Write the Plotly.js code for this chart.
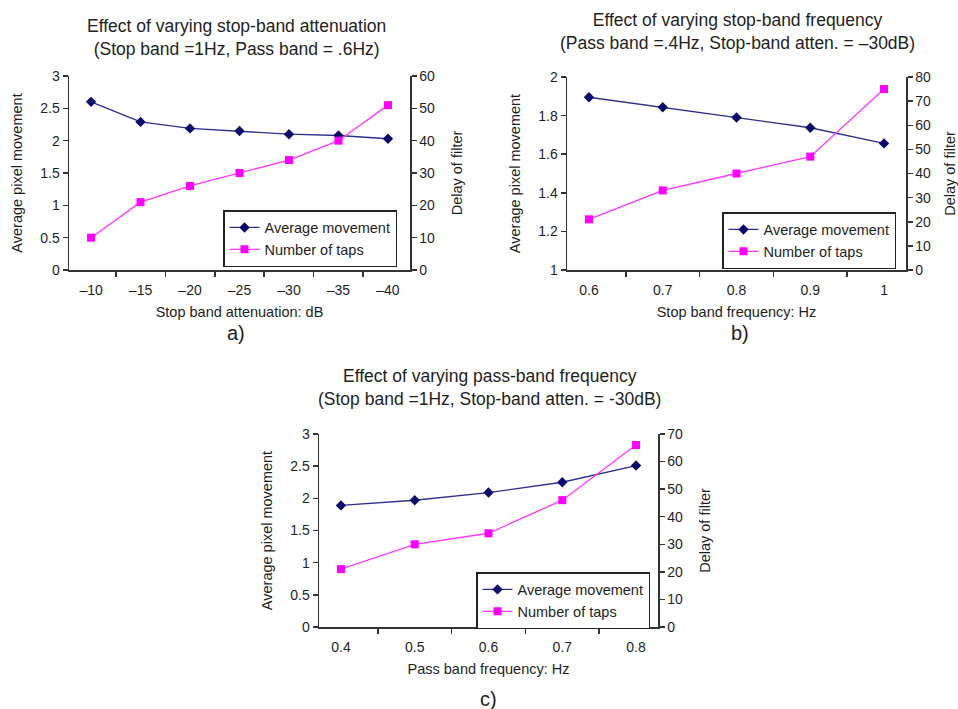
<!DOCTYPE html>
<html>
<head>
<meta charset="utf-8">
<script src="https://cdn.plot.ly/plotly-3.0.1.min.js"></script>
<style>html,body{margin:0;padding:0;background:#fff;}#chart{width:958px;height:709px;}</style>
</head>
<body>
<div id="chart"></div>
<script>
// Chart a) data
const attenCats = ["\u201310", "\u201315", "\u201320", "\u201325", "\u201330", "\u201335", "\u201340"];
const attenAvg = [2.6, 2.29, 2.19, 2.15, 2.10, 2.08, 2.03];
const attenTaps = [10, 21, 26, 30, 34, 40, 51];
// Chart b) data
const stopCats = ["0.6", "0.7", "0.8", "0.9", "1"];
const stopAvg = [1.895, 1.843, 1.79, 1.737, 1.656];
const stopTaps = [21, 33, 40, 47, 75];
// Chart c) data
const passCats = ["0.4", "0.5", "0.6", "0.7", "0.8"];
const passAvg = [1.89, 1.97, 2.09, 2.25, 2.51];
const passTaps = [21, 30, 34, 46, 66];

const FONT = "Liberation Sans, Arial, sans-serif";
const TXT = "#1e1e1e";
const AX = "#333";
const NAVY_LINE = "#2e2e8e";
const NAVY_MK = "#0b0b6b";
const MAG_LINE = "#ff33ff";
const MAG_MK = "#ff00ff";

function avgTrace(x, y, xa, ya, lg) {
  return {x: x, y: y, xaxis: xa, yaxis: ya, type: "scatter", mode: "lines+markers",
    name: "Average movement", legend: lg,
    line: {color: NAVY_LINE, width: 1.3},
    marker: {symbol: "diamond", size: 8, color: NAVY_MK}};
}
function tapTrace(x, y, xa, ya, lg) {
  return {x: x, y: y, xaxis: xa, yaxis: ya, type: "scatter", mode: "lines+markers",
    name: "Number of taps", legend: lg,
    line: {color: MAG_LINE, width: 1.3},
    marker: {symbol: "square", size: 8, color: MAG_MK}};
}

const data = [
  avgTrace(attenCats, attenAvg, "x", "y", "legend"),
  tapTrace(attenCats, attenTaps, "x", "y2", "legend"),
  avgTrace(stopCats, stopAvg, "x2", "y3", "legend2"),
  tapTrace(stopCats, stopTaps, "x2", "y4", "legend2"),
  avgTrace(passCats, passAvg, "x3", "y5", "legend3"),
  tapTrace(passCats, passTaps, "x3", "y6", "legend3")
];

const tickFont = {family: FONT, size: 14, color: TXT};
const titleFont = {family: FONT, size: 14.5, color: TXT};

function xAxis(domain, title, anchor) {
  return {domain: domain, anchor: anchor, type: "category", showline: true, linecolor: AX, linewidth: 1.5,
    ticks: "outside", tickson: "boundaries", ticklen: 5, tickcolor: AX, tickwidth: 1.5, showgrid: false, zeroline: false,
    tickfont: tickFont, fixedrange: true, ticklabelstandoff: 7,
    title: {text: title, font: titleFont, standoff: 9}};
}
function yLeft(domain, range, dtick, anchor, title) {
  return {domain: domain, anchor: anchor, range: range, dtick: dtick, showline: true, linecolor: AX, linewidth: 1.5,
    ticks: "outside", ticklen: 5, tickcolor: AX, tickwidth: 1.5, showgrid: false, zeroline: false,
    tickfont: tickFont, fixedrange: true,
    title: {text: title, font: titleFont, standoff: 14}};
}
function yRight(overlay, range, dtick, anchor, title) {
  return {overlaying: overlay, anchor: anchor, side: "right", range: range, dtick: dtick, showline: true,
    linecolor: AX, linewidth: 1.5, ticks: "outside", ticklen: 5, tickcolor: AX, tickwidth: 1.5,
    showgrid: false, zeroline: false, tickfont: tickFont, fixedrange: true,
    title: {text: title, font: titleFont, standoff: 18}};
}
// inner half of the crossing tick marks on the right axes
function yRightInner(overlay, range, dtick, anchor) {
  return {overlaying: overlay, anchor: anchor, side: "right", range: range, dtick: dtick, showline: false,
    ticks: "inside", ticklen: 5, tickcolor: AX, tickwidth: 1.5, showticklabels: false,
    showgrid: false, zeroline: false, fixedrange: true};
}
function legendAt(x, y) {
  return {x: x, y: y, xanchor: "left", yanchor: "top", xref: "paper", yref: "paper",
    bgcolor: "#fff", bordercolor: "#222", borderwidth: 1.5,
    font: {family: FONT, size: 14.5, color: TXT}, itemwidth: 30, tracegroupgap: 0};
}
function ann(x, y, text, size) {
  return {xref: "paper", yref: "paper", x: x / 958, y: 1 - y / 709, xanchor: "center", yanchor: "middle",
    text: text, showarrow: false, font: {family: FONT, size: size, color: TXT}};
}

const layout = {
  width: 958, height: 709,
  margin: {l: 0, r: 0, t: 0, b: 0},
  paper_bgcolor: "#fff", plot_bgcolor: "#fff",
  showlegend: true,
  font: {family: FONT, color: TXT},
  xaxis: xAxis([69/958, 410/958], "Stop band attenuation: dB", "y"),
  yaxis: yLeft([1 - 270/709, 1 - 76/709], [0, 3], 0.5, "x", "Average pixel movement"),
  yaxis2: yRight("y", [0, 60], 10, "x", "Delay of filter"),
  xaxis2: xAxis([567/958, 906/958], "Stop band frequency: Hz", "y3"),
  yaxis3: yLeft([1 - 270/709, 1 - 77/709], [1, 2], 0.2, "x2", "Average pixel movement"),
  yaxis4: yRight("y3", [0, 80], 10, "x2", "Delay of filter"),
  xaxis3: xAxis([319/958, 658/958], "Pass band frequency: Hz", "y5"),
  yaxis5: yLeft([1 - 627/709, 1 - 434/709], [0, 3], 0.5, "x3", "Average pixel movement"),
  yaxis6: yRight("y5", [0, 70], 10, "x3", "Delay of filter"),
  yaxis7: yRightInner("y", [0, 60], 10, "x"),
  yaxis8: yRightInner("y3", [0, 80], 10, "x2"),
  yaxis9: yRightInner("y5", [0, 70], 10, "x3"),
  legend: legendAt(223/958, 1 - 210/709),
  legend2: legendAt(722/958, 1 - 212/709),
  legend3: legendAt(476/958, 1 - 572/709),
  annotations: [
    ann(236, 37, "Effect of varying stop-band attenuation<br>(Stop band =1Hz, Pass band = .6Hz)", 17.5),
    ann(737, 31, "Effect of varying stop-band frequency<br>(Pass band =.4Hz, Stop-band atten. = \u201330dB)", 17.5),
    ann(489, 387, "Effect of varying pass-band frequency<br>(Stop band =1Hz, Stop-band atten. = -30dB)", 17.5),
    ann(236, 333, "a)", 20),
    ann(740, 333, "b)", 20),
    ann(488, 699, "c)", 20)
  ]
};

Plotly.newPlot("chart", data, layout, {staticPlot: true, displayModeBar: false});
</script>
</body>
</html>
